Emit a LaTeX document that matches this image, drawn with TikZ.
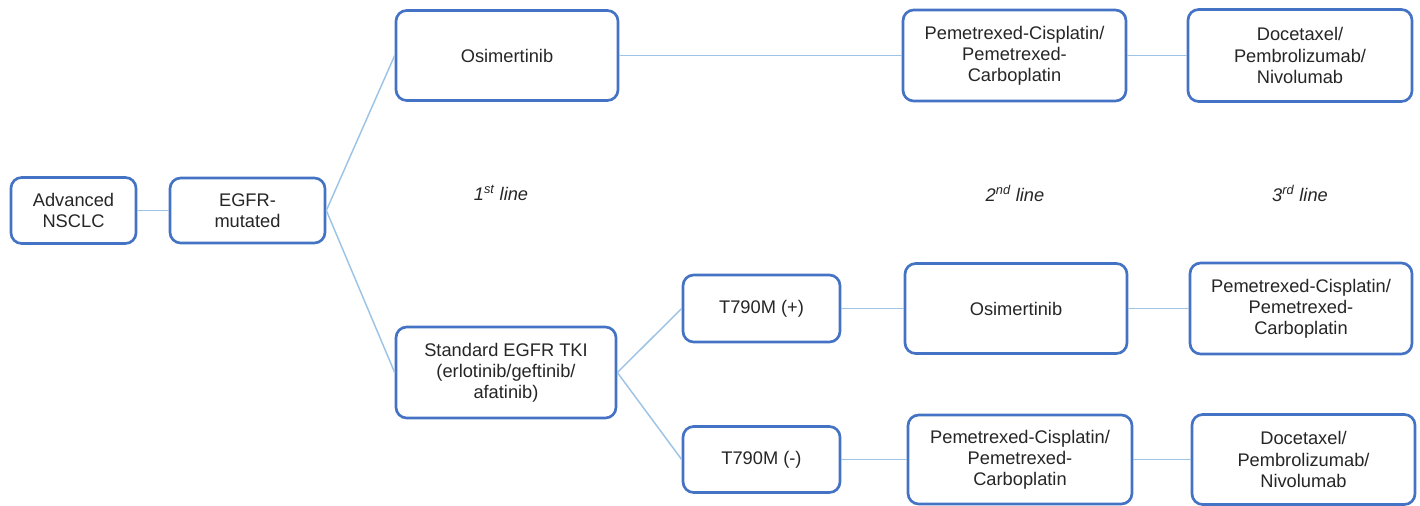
\documentclass[tikz,border=0pt]{standalone}
\usepackage{fontspec}
\setmainfont{Liberation Sans}
\definecolor{boxblue}{HTML}{4472C4}
\definecolor{linkblue}{HTML}{9DC3E6}
\definecolor{txt}{HTML}{262626}
\begin{document}
\begin{tikzpicture}[x=0.75pt,y=-0.75pt,
  box/.style={draw=boxblue, line width=2pt, rounded corners=8pt, fill=white,
    align=center, inner sep=0pt, text=txt, font=\fontsize{13.7}{15.8}\selectfont},
  bw/.style 2 args={minimum width=#1*0.75pt, minimum height=#2*0.75pt},
  link/.style={draw=linkblue, line width=1.1pt},
  lbl/.style={font=\fontsize{13.7}{15.8}\selectfont\itshape, text=txt}]
\useasboundingbox (0,0) rectangle (1420,506);

\node[box, bw={125}{66}] (nsclc) at (73.5,210.5) {Advanced\\NSCLC};
\node[box, bw={155}{65}] (egfr) at (247.5,210.5) {EGFR-\\mutated};
\node[box, bw={222}{90}] (osim1) at (507,55.5) {Osimertinib};
\node[box, bw={223}{91}] (pem1) at (1014.5,55.5) {Pemetrexed-Cisplatin/\\Pemetrexed-\\Carboplatin};
\node[box, bw={224}{92}] (doc1) at (1300,55.5) {Docetaxel/\\Pembrolizumab/\\Nivolumab};
\node[box, bw={220}{91}] (std) at (506,372.5) {Standard EGFR TKI\\(erlotinib/geftinib/\\afatinib)};
\node[box, bw={157}{67}] (tpos) at (761.5,308.5) {T790M (+)};
\node[box, bw={222}{90}] (osim2) at (1016,308.5) {Osimertinib};
\node[box, bw={222}{91}] (pem2) at (1301,308.5) {Pemetrexed-Cisplatin/\\Pemetrexed-\\Carboplatin};
\node[box, bw={157}{66}] (tneg) at (761.5,459.5) {T790M (-)};
\node[box, bw={224}{89}] (pem3) at (1020,459.5) {Pemetrexed-Cisplatin/\\Pemetrexed-\\Carboplatin};
\node[box, bw={223}{90}] (doc3) at (1303.5,459.5) {Docetaxel/\\Pembrolizumab/\\Nivolumab};

\node[lbl] (l1) at (501,193) {1\textsuperscript{st} line};
\node[lbl] (l2) at (1015,193) {2\textsuperscript{nd} line};
\node[lbl] (l3) at (1300,193) {3\textsuperscript{rd} line};

\draw[link] (nsclc.east) -- (egfr.west);
\draw[link] (egfr.east) -- (osim1.west);
\draw[link] (egfr.east) -- (std.west);
\draw[link] (osim1.east) -- (pem1.west);
\draw[link] (pem1.east) -- (doc1.west);
\draw[link] (std.east) -- (tpos.west);
\draw[link] (std.east) -- (tneg.west);
\draw[link] (tpos.east) -- (osim2.west);
\draw[link] (osim2.east) -- (pem2.west);
\draw[link] (tneg.east) -- (pem3.west);
\draw[link] (pem3.east) -- (doc3.west);
\end{tikzpicture}
\end{document}
